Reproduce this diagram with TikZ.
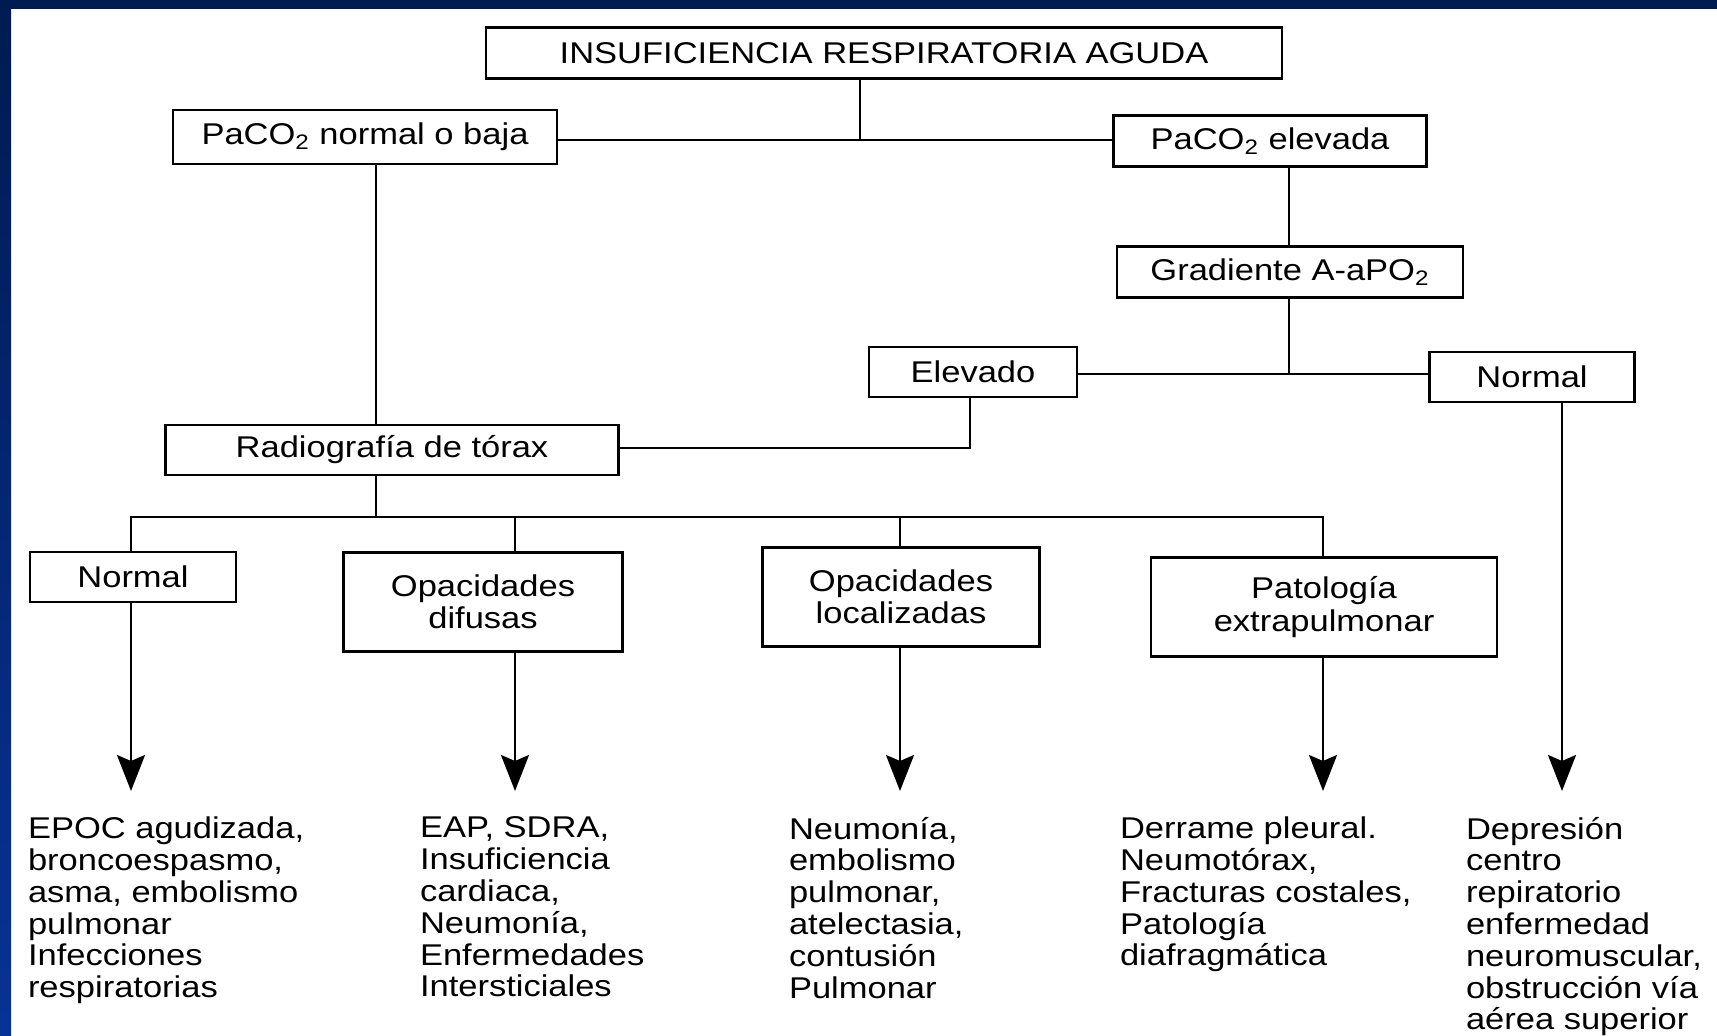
\documentclass[tikz,border=0pt]{standalone}
\usepackage{fontspec}
\setmainfont{Liberation Sans}[FakeStretch=1.15]
\usetikzlibrary{arrows.meta}
\definecolor{marcoosc}{RGB}{0,27,82}
\definecolor{marcoazul}{RGB}{8,50,150}

\begin{document}
\begin{tikzpicture}[x=0.5pt, y=-0.5pt, line width=1pt,
    % --- estilos ---
    caja/.style={draw=black, line width=1.3pt, inner sep=0pt, align=center,
        font=\fontsize{15}{16.25}\selectfont},
    % listas de causas (texto libre)
    lista/.style={anchor=north west, inner sep=0pt, align=left,
        font=\fontsize{15}{15.9}\selectfont},
    flecha/.style={-{Stealth[length=18pt, width=14pt, inset=3pt]}, line width=1.2pt}
]
    \useasboundingbox (0,0) rectangle (1717,1036);

    % =========================================
    % marco azul de la diapositiva
    % =========================================
    \fill[white] (0,0) rectangle (1717,1036);
    \shade[top color=marcoosc, bottom color=marcoazul] (0,0) rectangle (11,1036);
    \fill[marcoosc] (0,0) rectangle (1717,9);

    % =========================================
    % cajas
    % =========================================
    \node[caja, minimum width=398pt, minimum height=25.5pt] (ira) at (884,53)
        {INSUFICIENCIA RESPIRATORIA AGUDA};
    \node[caja, minimum width=192pt, minimum height=27pt] (baja) at (365,137)
        {PaCO\textsubscript{2} normal o baja};
    \node[caja, minimum width=156.5pt, minimum height=25.5pt] (alta) at (1270,141)
        {PaCO\textsubscript{2} elevada};
    \node[caja, minimum width=173pt, minimum height=25.5pt] (grad) at (1290,272)
        {Gradiente A-aPO\textsubscript{2}};
    \node[caja, minimum width=104pt, minimum height=25pt] (elevado) at (973,372) {Elevado};
    \node[caja, minimum width=102.5pt, minimum height=25pt] (normR) at (1532,377) {Normal};
    \node[caja, minimum width=226.5pt, minimum height=25pt] (rx) at (392,450)
        {Radiografía de tórax};
    \node[caja, minimum width=103pt, minimum height=25pt] (normL) at (133,577) {Normal};
    \node[caja, minimum width=139.5pt, minimum height=49.5pt] (dif) at (483,602)
        {Opacidades\\ difusas};
    \node[caja, minimum width=138.5pt, minimum height=49.5pt] (loc) at (901,597)
        {Opacidades\\ localizadas};
    \node[caja, minimum width=173pt, minimum height=49.5pt] (pat) at (1324,607)
        {Patología\\ extrapulmonar};

    % =========================================
    % uniones
    % =========================================
    \coordinate (j1) at (860,140);   % bajo la caja principal
    \coordinate (j2) at (1289,374);  % bajo el gradiente
    \coordinate (j3) at (970,448);   % codo de Elevado
    \coordinate (j4) at (376,517);   % bajo la radiografía
    \coordinate (b1) at (131,517);
    \coordinate (b2) at (515,517);
    \coordinate (b3) at (900,517);
    \coordinate (b4) at (1323,517);
    \coordinate (b5) at (1562,517);
    \coordinate (fin) at (0,791);    % altura de las puntas

    \draw (ira.south -| j1) -- (j1);
    \draw (baja.east |- j1) -- (alta.west |- j1);
    \draw (baja.south -| j4) -- (rx.north -| j4);
    \draw (alta.south -| j2) -- (grad.north -| j2);
    \draw (grad.south -| j2) -- (j2);
    \draw (elevado.east |- j2) -- (normR.west |- j2);
    \draw (elevado.south -| j3) -- (j3) -- (rx.east |- j3);

    % bus de la radiografía
    \draw (rx.south -| j4) -- (j4);
    \draw (normL.north -| b1) -- (b1) -- (b4) -- (pat.north -| b4);
    \draw (b2) -- (dif.north -| b2);
    \draw (b3) -- (loc.north -| b3);

    % flechas hacia las causas
    \draw[flecha] (normL.south -| b1) -- (fin -| b1);
    \draw[flecha] (dif.south -| b2) -- (fin -| b2);
    \draw[flecha] (loc.south -| b3) -- (fin -| b3);
    \draw[flecha] (pat.south -| b4) -- (fin -| b4);
    \draw[flecha] (normR.south -| b5) -- (fin -| b5);

    % =========================================
    % causas
    % =========================================
    \node[lista] (c1) at (27,816) {EPOC agudizada,\\ broncoespasmo,\\ asma, embolismo\\
        pulmonar\\ Infecciones\\ respiratorias};
    \node[lista] (c2) at (419,816) {EAP, SDRA,\\ Insuficiencia\\ cardiaca,\\ Neumonía,\\
        Enfermedades\\ Intersticiales};
    \node[lista] (c3) at (788,816) {Neumonía,\\ embolismo\\ pulmonar,\\ atelectasia,\\
        contusión\\ Pulmonar};
    \node[lista] (c4) at (1119,816) {Derrame pleural.\\ Neumotórax,\\ Fracturas costales,\\
        Patología\\ diafragmática};
    \node[lista] (c5) at (1465,816) {Depresión\\ centro\\ repiratorio\\ enfermedad\\
        neuromuscular,\\ obstrucción vía\\ aérea superior};

\end{tikzpicture}
\end{document}
